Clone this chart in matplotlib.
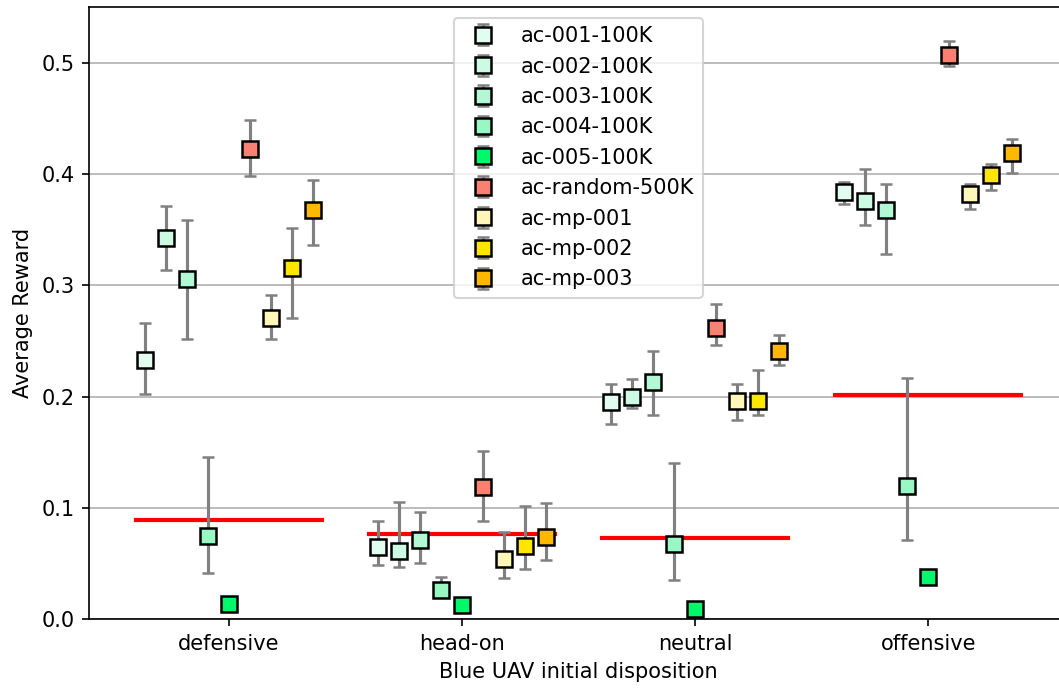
import numpy as np
import matplotlib
matplotlib.use("Agg")
import matplotlib.pyplot as plt
from matplotlib.ticker import FormatStrFormatter

# dispositions on the x axis
dispositions = ["defensive", "head-on", "neutral", "offensive"]

models = ["ac-001-100K", "ac-002-100K", "ac-003-100K", "ac-004-100K", "ac-005-100K",
          "ac-random-500K", "ac-mp-001", "ac-mp-002", "ac-mp-003"]

colors = ["#e2fcef", "#ccfae2", "#b3f8d4", "#99f7c3", "#00f86a",
          "#fa8072", "#fff6b8", "#ffe600", "#ffb800"]

# mean reward per model, one row per model, columns follow `dispositions`
mean_reward = [
    [0.233, 0.065, 0.195, 0.384],
    [0.343, 0.061, 0.200, 0.376],
    [0.306, 0.071, 0.213, 0.368],
    [0.075, 0.026, 0.067, 0.120],
    [0.0135, 0.0123, 0.0087, 0.038],
    [0.423, 0.119, 0.262, 0.507],
    [0.271, 0.054, 0.196, 0.382],
    [0.316, 0.066, 0.196, 0.399],
    [0.368, 0.074, 0.241, 0.419],
]

# lower / upper ends of the error bars
reward_lo = [
    [0.202, 0.049, 0.175, 0.373],
    [0.314, 0.047, 0.190, 0.354],
    [0.252, 0.050, 0.183, 0.328],
    [0.041, 0.020, 0.035, 0.071],
    [0.0135, 0.0123, 0.0087, 0.038],
    [0.398, 0.088, 0.246, 0.497],
    [0.252, 0.037, 0.179, 0.369],
    [0.271, 0.045, 0.183, 0.386],
    [0.336, 0.053, 0.228, 0.401],
]
reward_hi = [
    [0.266, 0.088, 0.211, 0.393],
    [0.371, 0.105, 0.216, 0.405],
    [0.359, 0.096, 0.241, 0.391],
    [0.146, 0.038, 0.140, 0.217],
    [0.0135, 0.0123, 0.0087, 0.038],
    [0.449, 0.151, 0.283, 0.520],
    [0.291, 0.078, 0.211, 0.391],
    [0.352, 0.102, 0.224, 0.409],
    [0.395, 0.104, 0.255, 0.432],
]

# baseline reward (red bar) per disposition
baseline = [0.089, 0.076, 0.073, 0.201]

fig = plt.figure(figsize=(1059 / 150, 688 / 150), dpi=150)
ax = fig.add_axes([0.084, 0.1003, 0.9245, 0.889])

x = np.arange(len(dispositions))
step = 0.09
offsets = (np.arange(len(models)) - (len(models) - 1) / 2) * step

for i, name in enumerate(models):
    mu = np.array(mean_reward[i])
    lo = mu - np.array(reward_lo[i])
    hi = np.array(reward_hi[i]) - mu
    ax.errorbar(x + offsets[i], mu, yerr=[lo, hi], fmt="s", color="gray",
                ecolor="gray", elinewidth=1.5, capsize=3, capthick=1.5,
                markersize=7.5, markerfacecolor=colors[i], markeredgecolor="black",
                markeredgewidth=1.2, label=name, zorder=3)

for xi, b in zip(x, baseline):
    ax.plot([xi - 0.4, xi + 0.4], [b, b], color="red", lw=2, zorder=2)

ax.set_xlim(-0.6, 3.6)
ax.set_ylim(0, 0.55)
ax.set_xticks(x)
ax.set_xticklabels(dispositions)
ax.set_yticks(np.arange(0, 0.51, 0.1))
ax.yaxis.set_major_formatter(FormatStrFormatter("%.1f"))
ax.grid(axis="y", color="#b0b0b0", lw=0.8)
ax.set_axisbelow(True)
ax.set_xlabel("Blue UAV initial disposition")
ax.set_ylabel("Average Reward")
ax.legend(loc="upper center")

fig.savefig("out.png", dpi=150)
